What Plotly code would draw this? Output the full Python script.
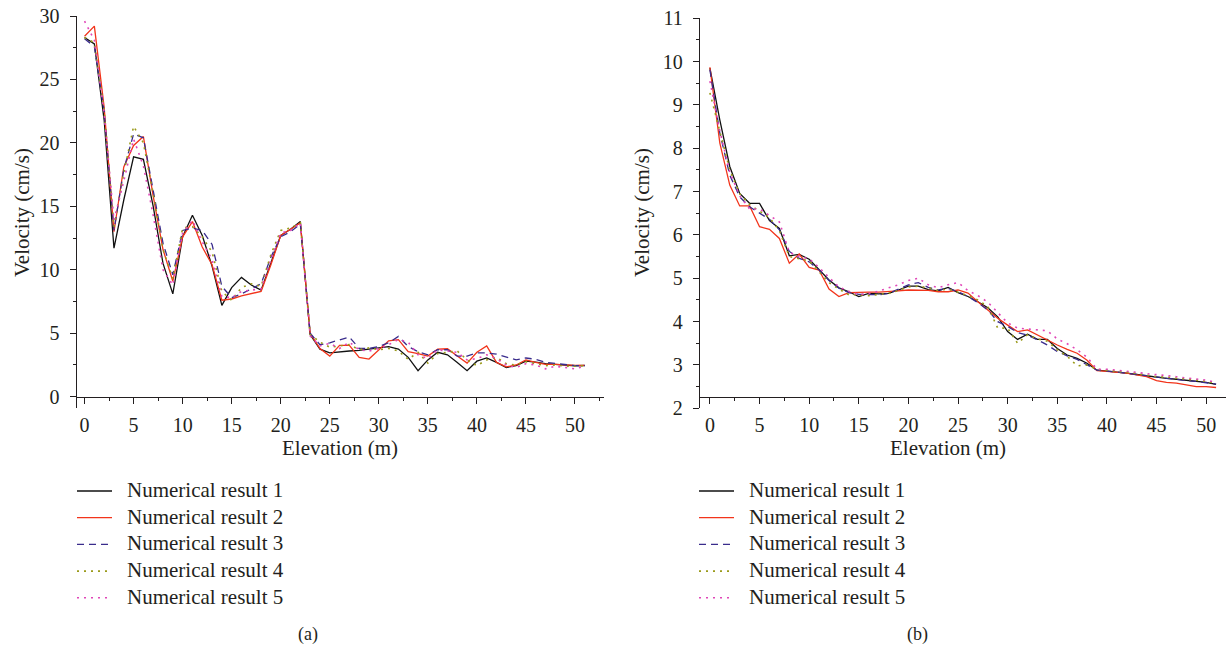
import plotly.graph_objects as go

W, H = 1228, 652

# ---------------- data ----------------
elevation = list(range(52))

left_r1 = [28.3, 27.8, 21.8, 11.7, 15.5, 18.9, 18.7, 15.0, 10.5, 8.1,
           12.6, 14.3, 12.7, 10.3, 7.2, 8.6, 9.4, 8.8, 8.4, 10.5,
           12.7, 13.2, 13.8, 4.9, 3.75, 3.45, 3.55, 3.6, 3.65, 3.75,
           3.8, 3.95, 3.75, 3.1, 2.05, 2.9, 3.5, 3.3, 2.7, 2.05,
           2.8, 3.05, 2.7, 2.3, 2.45, 2.8, 2.72, 2.6, 2.55, 2.47,
           2.44, 2.46]
left_r2 = [28.4, 29.2, 22.8, 13.0, 18.1, 19.8, 20.5, 15.8, 11.6, 9.1,
           12.6, 13.8, 11.8, 10.4, 7.6, 7.7, 7.95, 8.15, 8.3, 10.4,
           12.7, 13.2, 13.7, 5.0, 3.8, 3.2, 4.05, 4.05, 3.1, 2.97,
           3.65, 4.4, 4.5, 3.55, 3.4, 3.2, 3.75, 3.78, 3.2, 2.65,
           3.5, 4.0, 2.7, 2.35, 2.5, 2.9, 2.7, 2.55, 2.55, 2.5,
           2.47, 2.47]
left_r3 = [28.2, 27.6, 22.5, 13.1, 17.9, 20.7, 20.4, 16.3, 12.1, 9.6,
           13.1, 13.3, 13.1, 12.0, 8.7, 7.8, 8.1, 8.5, 8.9, 11.0,
           12.6, 13.0, 13.6, 5.0, 4.1, 4.25, 4.5, 4.7, 3.8, 3.8,
           3.95, 4.25, 4.75, 3.95, 3.55, 3.3, 3.7, 3.7, 3.2, 3.2,
           3.45, 3.45, 3.35, 3.1, 2.9, 3.05, 2.95, 2.7, 2.6, 2.5,
           2.45, 2.45]
left_r4 = [28.3, 27.9, 22.6, 13.4, 17.6, 21.3, 20.0, 16.0, 11.6, 9.3,
           13.3, 13.4, 12.6, 11.4, 8.3, 7.6, 8.6, 8.9, 8.7, 11.2,
           13.1, 13.3, 13.7, 4.9, 4.3, 3.9, 4.0, 4.1, 3.7, 3.85,
           3.7, 3.8, 3.6, 2.95, 3.5, 2.65, 3.4, 3.5, 3.6, 2.9,
           2.45, 2.9, 3.1, 2.6, 2.5, 2.75, 2.6, 2.45, 2.5, 2.4,
           2.4, 2.45]
left_r5 = [29.6, 28.1, 22.3, 13.9, 17.0, 20.3, 18.2, 14.3, 10.0, 8.8,
           12.9, 13.9, 12.2, 10.8, 7.9, 7.8, 8.3, 8.4, 8.5, 10.8,
           12.9, 13.1, 13.7, 4.8, 4.0, 4.2, 3.8, 4.3, 3.7, 3.6,
           3.8, 4.1, 4.5, 4.3, 3.3, 3.0, 3.7, 3.6, 3.5, 2.9,
           3.0, 3.3, 3.0, 2.5, 2.3, 2.6, 2.5, 2.2, 2.4, 2.3,
           2.2, 2.4]

right_r1 = [9.85, 8.65, 7.58, 6.96, 6.73, 6.73, 6.33, 6.15, 5.52, 5.55,
            5.44, 5.19, 4.96, 4.78, 4.69, 4.58, 4.65, 4.64, 4.65, 4.73,
            4.82, 4.82, 4.74, 4.71, 4.79, 4.67, 4.58, 4.46, 4.32, 4.11,
            3.77, 3.59, 3.71, 3.59, 3.59, 3.38, 3.23, 3.15, 3.04, 2.88,
            2.86, 2.84, 2.81, 2.78, 2.75, 2.71, 2.69, 2.67, 2.65, 2.63,
            2.60, 2.55]
right_r2 = [9.87, 8.12, 7.15, 6.67, 6.67, 6.19, 6.13, 5.92, 5.35, 5.56,
            5.25, 5.19, 4.75, 4.58, 4.67, 4.68, 4.68, 4.68, 4.69, 4.71,
            4.73, 4.73, 4.72, 4.69, 4.69, 4.73, 4.66, 4.46, 4.27, 4.08,
            3.92, 3.77, 3.81, 3.69, 3.58, 3.46, 3.36, 3.27, 3.11, 2.87,
            2.85, 2.83, 2.81, 2.77, 2.73, 2.64, 2.60, 2.58, 2.54, 2.50,
            2.50, 2.48]
right_r3 = [9.81, 8.35, 7.38, 6.88, 6.65, 6.50, 6.36, 6.12, 5.62, 5.46,
            5.38, 5.19, 4.95, 4.77, 4.67, 4.63, 4.62, 4.62, 4.65, 4.75,
            4.85, 4.90, 4.79, 4.73, 4.77, 4.69, 4.58, 4.44, 4.27, 4.00,
            3.89, 3.75, 3.69, 3.58, 3.46, 3.31, 3.21, 3.13, 3.00, 2.88,
            2.86, 2.84, 2.81, 2.78, 2.75, 2.72, 2.69, 2.67, 2.64, 2.62,
            2.59, 2.56]
right_r4 = [9.28, 8.4, 7.5, 6.95, 6.7, 6.55, 6.4, 6.1, 5.5, 5.45,
            5.4, 5.15, 4.9, 4.75, 4.62, 4.62, 4.6, 4.63, 4.65, 4.72,
            4.8, 4.82, 4.78, 4.72, 4.75, 4.68, 4.6, 4.5, 4.35, 3.85,
            3.85, 3.5, 3.7, 3.6, 3.55, 3.35, 3.2, 2.98, 3.0, 2.9,
            2.88, 2.85, 2.83, 2.8, 2.76, 2.73, 2.72, 2.7, 2.68, 2.65,
            2.62, 2.58]
right_r5 = [9.55, 8.4, 7.45, 6.9, 6.6, 6.6, 6.45, 6.3, 5.6, 5.5,
            5.45, 5.25, 5.02, 4.8, 4.7, 4.62, 4.65, 4.7, 4.78, 4.85,
            4.95, 5.0, 4.85, 4.78, 4.85, 4.9, 4.72, 4.6, 4.45, 4.2,
            3.97, 3.85, 3.83, 3.8, 3.79, 3.6, 3.49, 3.35, 3.18, 2.9,
            2.9, 2.88, 2.86, 2.83, 2.8, 2.78, 2.75, 2.73, 2.7, 2.68,
            2.65, 2.6]

series_names = ["Numerical result 1", "Numerical result 2", "Numerical result 3",
                "Numerical result 4", "Numerical result 5"]
x_ticks = [0, 5, 10, 15, 20, 25, 30, 35, 40, 45, 50]
left_y_ticks = [0, 5, 10, 15, 20, 25, 30]
right_y_ticks = [2, 3, 4, 5, 6, 7, 8, 9, 10, 11]
panel_labels = ["(a)", "(b)"]

# ---------------- styling ----------------
FONT = "'Times New Roman', 'Liberation Serif', 'DejaVu Serif', serif"
TXT = "#231f20"
styles = [
    dict(color="#111111", width=1.3, dash="solid"),
    dict(color="#f2341b", width=1.3, dash="solid"),
    dict(color="#3a2c8c", width=1.3, dash="7px,5px"),
    dict(color="#9a9a1a", width=1.6, dash="2px,5px"),
    dict(color="#e046b8", width=1.6, dash="2px,5px"),
]


def px(xp):
    return xp / W


def py(yp):
    return 1 - yp / H


fig = go.Figure()

left_data = [left_r1, left_r2, left_r3, left_r4, left_r5]
right_data = [right_r1, right_r2, right_r3, right_r4, right_r5]

for name, vals, st in zip(series_names, left_data, styles):
    fig.add_trace(go.Scatter(x=elevation, y=vals, mode="lines", name=name,
                             line=st, xaxis="x", yaxis="y", showlegend=False))
for name, vals, st in zip(series_names, right_data, styles):
    fig.add_trace(go.Scatter(x=elevation, y=vals, mode="lines", name=name,
                             line=st, xaxis="x2", yaxis="y2", showlegend=False))

tickfont = dict(family=FONT, size=20, color=TXT)
axis_common = dict(showline=True, linecolor=TXT, linewidth=1.3, showgrid=False,
                   zeroline=False, ticks="outside", ticklen=6, tickwidth=1.2,
                   tickcolor=TXT, tickfont=tickfont, automargin=False)

xaxis_pos = py(396.7)

fig.update_layout(
    template="none",
    width=W, height=H,
    margin=dict(l=0, r=0, t=0, b=0, pad=0, autoexpand=False),
    paper_bgcolor="white", plot_bgcolor="white",
    font=dict(family=FONT, color=TXT),
    xaxis=dict(domain=[px(76.7), px(604)], range=[-0.8, 52.96],
               anchor="free", position=xaxis_pos,
               tickmode="array", tickvals=x_ticks,
               minor=dict(dtick=2.5, tick0=0, ticks="outside", ticklen=3,
                          tickcolor=TXT, tickwidth=1.2),
               ticklabelstandoff=4, **axis_common),
    yaxis=dict(domain=[py(408), py(16)], range=[-0.89, 30], anchor="x",
               tickmode="array", tickvals=left_y_ticks,
               minor=dict(dtick=2.5, tick0=0, ticks="outside", ticklen=3,
                          tickcolor=TXT, tickwidth=1.2),
               ticklabelstandoff=6, **axis_common),
    xaxis2=dict(domain=[px(700), px(1226)], range=[-1.0, 52.0],
                anchor="free", position=xaxis_pos,
                tickmode="array", tickvals=x_ticks,
                minor=dict(dtick=2.5, tick0=0, ticks="outside", ticklen=3,
                           tickcolor=TXT, tickwidth=1.2),
                ticklabelstandoff=4, **axis_common),
    yaxis2=dict(domain=[py(408.3), py(18.3)], range=[2, 11], anchor="x2",
                tickmode="array", tickvals=right_y_ticks,
                minor=dict(dtick=0.5, tick0=0, ticks="outside", ticklen=3,
                           tickcolor=TXT, tickwidth=1.2),
                ticklabelstandoff=6, **axis_common),
)

annotations = []
shapes = []
title_font = dict(family=FONT, size=21, color=TXT)

# axis titles
for xc in (340.4, 948):
    annotations.append(dict(text="Elevation (m)", x=px(xc), y=py(448.3),
                            xref="paper", yref="paper", showarrow=False,
                            xanchor="center", yanchor="middle", font=title_font))
for xc, yc in ((22, 213), (642, 213)):
    annotations.append(dict(text="Velocity (cm/s)", x=px(xc), y=py(yc),
                            xref="paper", yref="paper", showarrow=False,
                            textangle=-90, xanchor="center", yanchor="middle",
                            font=title_font))

# legends (one per panel)
row_y = [491, 517.7, 544.4, 571.1, 597.8]
for (lx0, lx1, tx) in ((77, 112, 125), (699, 734, 746.7)):
    for name, st, ry in zip(series_names, styles, row_y):
        shapes.append(dict(type="line", xref="paper", yref="paper",
                           x0=px(lx0), x1=px(lx1), y0=py(ry), y1=py(ry),
                           line=dict(color=st["color"], width=st["width"],
                                     dash=st["dash"])))
        annotations.append(dict(text=name, x=px(tx), y=py(ry - 1),
                                xref="paper", yref="paper", showarrow=False,
                                xanchor="left", yanchor="middle",
                                font=title_font))

# panel labels
for lab, xc in zip(panel_labels, (307.5, 917.5)):
    annotations.append(dict(text=lab, x=px(xc), y=py(634), xref="paper",
                            yref="paper", showarrow=False, xanchor="center",
                            yanchor="middle",
                            font=dict(family=FONT, size=18, color=TXT)))

fig.update_layout(annotations=annotations, shapes=shapes)

fig.write_html("out.html")
